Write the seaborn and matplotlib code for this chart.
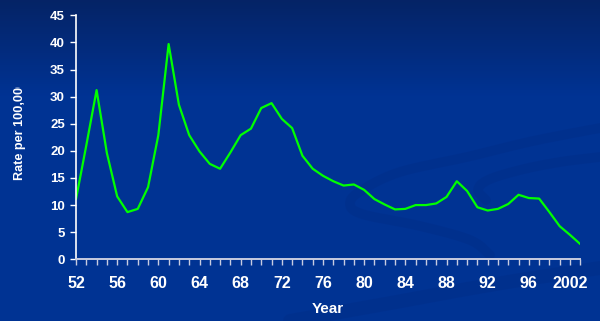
import numpy as np
import matplotlib
matplotlib.use("Agg")
import matplotlib.pyplot as plt
import seaborn as sns
import pandas as pd
from matplotlib.transforms import Bbox

# Rate per 100,000 by year (one point per year on a category axis)
years = list(range(1952, 2002))
rates = [11.1, 21.0, 31.2, 19.6, 11.6, 8.7, 9.3, 13.3, 22.9, 39.7,
         28.5, 22.9, 19.9, 17.6, 16.7, 19.7, 22.9, 24.1, 27.9, 28.8,
         25.9, 24.2, 19.1, 16.7, 15.4, 14.4, 13.6, 13.8, 12.8, 11.1,
         10.1, 9.2, 9.3, 10.0, 10.0, 10.3, 11.5, 14.4, 12.6, 9.6,
         9.0, 9.3, 10.2, 11.9, 11.3, 11.2, 8.7, 6.1, 4.5, 2.8]
tick_labels = ["52", "56", "60", "64", "68", "72", "76", "80", "84",
               "88", "92", "96", "2002"]
y_ticks = [0, 5, 10, 15, 20, 25, 30, 35, 40, 45]

df = pd.DataFrame({"pos": np.arange(len(years)), "rate": rates})

sns.set_theme(style="white")
plt.rcParams["font.family"] = ["Liberation Sans", "DejaVu Sans"]
plt.rcParams["font.weight"] = "bold"

fig = plt.figure(figsize=(6.0, 3.21), dpi=100)

# Blue gradient backdrop
bg = fig.add_axes([0, 0, 1, 1], zorder=-10)
top = np.array([0.02, 0.14, 0.40])
mid = np.array([0.0, 0.20, 0.58])
t = np.clip(np.linspace(0, 1, 321) / 0.3, 0, 1)[:, None]
grad = top * (1 - t) + mid * t
img = np.repeat(grad[:, None, :], 600, axis=1)
bg.imshow(img, extent=[0, 600, 321, 0], aspect="auto")


def smooth(px, py, n=200):
    # Catmull-Rom style resampling of a few guide points
    px, py = np.asarray(px, float), np.asarray(py, float)
    s = np.linspace(0, len(px) - 1, n)
    out_x, out_y = [], []
    for v in s:
        i = min(int(v), len(px) - 2)
        u = v - i
        i0, i1, i2, i3 = max(i - 1, 0), i, i + 1, min(i + 2, len(px) - 1)
        for arr, out in ((px, out_x), (py, out_y)):
            p0, p1, p2, p3 = arr[i0], arr[i1], arr[i2], arr[i3]
            out.append(0.5 * ((2 * p1) + (-p0 + p2) * u
                              + (2 * p0 - 5 * p1 + 4 * p2 - p3) * u ** 2
                              + (-p0 + 3 * p1 - 3 * p2 + p3) * u ** 3))
    return out_x, out_y


swoosh = "#002c86"
band_a = smooth([490, 470, 420, 362, 350, 362, 400, 467, 533, 600],
                [255, 240, 226, 214, 203, 190, 172, 157, 141, 128])
band_b = smooth([600, 560, 520, 488, 478, 486],
                [157, 162, 170, 180, 190, 200])
band_c = smooth([290, 380, 450, 520, 600], [321, 305, 292, 280, 268])
for (bx, by), lw in ((band_a, 7), (band_b, 7), (band_c, 10)):
    bg.plot(bx, by, color=swoosh, lw=lw, alpha=0.4, solid_capstyle="round")
bg.set_xlim(0, 600)
bg.set_ylim(321, 0)
bg.axis("off")

ax = fig.add_axes([76 / 600, 1 - 259.3 / 321, 504.3 / 600, 244 / 321])
ax.set_facecolor("none")
sns.lineplot(data=df, x="pos", y="rate", ax=ax, color="#00ff00",
             linewidth=1.6, legend=False)

ax.set_xlim(0, len(years) - 1)
ax.set_ylim(0, 45)
ax.set_xticks(np.arange(0, len(years), 4))
ax.set_xticklabels(tick_labels)
ax.set_xticks(np.arange(0, len(years)), minor=True)
ax.set_yticks(y_ticks)
ax.set_yticklabels([str(v) for v in y_ticks])

for side in ("top", "right"):
    ax.spines[side].set_visible(False)
ax.spines["left"].set_color("white")
ax.spines["left"].set_linewidth(1.2)
ax.spines["bottom"].set_color("#c8cce0")
ax.spines["bottom"].set_linewidth(1.4)

ax.tick_params(axis="x", which="both", direction="out", length=4, width=1,
               color="#c8cce0", bottom=True)
ax.tick_params(axis="x", which="major", labelsize=11.5, labelcolor="white",
               pad=8)
ax.tick_params(axis="y", which="major", direction="out", length=4, width=1,
               color="white", left=True, labelsize=9.5, labelcolor="white",
               pad=4)
for lbl in ax.get_xticklabels() + ax.get_yticklabels():
    lbl.set_fontweight("bold")

ax.set_xlabel("Year", color="white", fontsize=11, fontweight="bold",
              labelpad=8)
ax.set_ylabel("")

# Axis title runs off the top edge of its box and is cut there
ylab = fig.text(20 / 600, 1 - 180 / 321, "Rate per 100,000", rotation=90,
                ha="center", va="bottom", color="white", fontsize=9.1,
                fontweight="bold")
ylab.set_clip_box(Bbox.from_extents(0, 0, 600, 321 - 87))
ylab.set_clip_on(True)

fig.savefig("out.png", dpi=100)
